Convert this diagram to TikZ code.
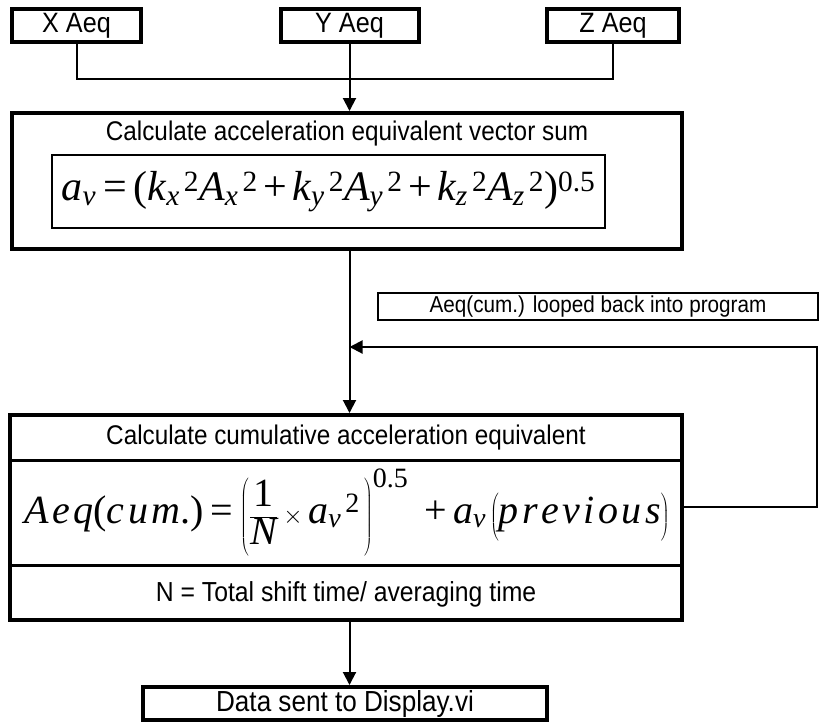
\documentclass[tikz,border=0pt]{standalone}
\usepackage[no-math]{fontspec}
\setmainfont{Liberation Sans}[FakeStretch=0.9]
\newfontfamily\libser[NFSSFamily=libser]{Liberation Serif}
% Times-like letters and digits in formulas
\DeclareSymbolFont{letters}{TU}{libser}{m}{it}
\DeclareSymbolFont{operators}{TU}{libser}{m}{n}
\mathcode`.="002E
\usetikzlibrary{arrows.meta}

% loosely tracked italic words in the cumulative formula
\newcommand\trk{\mkern2.5mu}

\tikzset{
  thickbox/.style={draw, line width=4pt, inner sep=0pt, fill=white},
  thinbox/.style={draw, line width=2pt, inner sep=0pt},
  lbl/.style={font=\fontsize{28}{30}\selectfont},
  head/.style={font=\fontsize{27}{29}\selectfont},
  mid/.style={font=\fontsize{27.5}{29}\selectfont},
  small/.style={font=\fontsize{23}{25}\selectfont},
  conn/.style={line width=2pt},
  flow/.style={conn, -{Triangle[length=13pt,width=13pt]}},
  divider/.style={line width=3pt},
}

\begin{document}
\begin{tikzpicture}[x=1pt,y=-1pt]
\useasboundingbox (0,0) rectangle (822,724);

% input channels
\node[thickbox, lbl, minimum width=129pt, minimum height=33pt] (xa) at (76.5,25.5) {X Aeq};
\node[thickbox, lbl, minimum width=138pt, minimum height=33pt] (ya) at (349.5,25.5) {Y Aeq};
\node[thickbox, lbl, minimum width=132pt, minimum height=33pt] (za) at (613,25.5) {Z Aeq};
\coordinate (hub) at (349.5,79);

% vector sum block
\node[thickbox, minimum width=670pt, minimum height=136pt] (b1) at (347,181) {};
\node[head] (b1t) at (347,134) {Calculate acceleration equivalent vector sum};
\node[thinbox, minimum width=553pt, minimum height=73pt] (f1) at (328.5,191.5) {};
\node[font=\fontsize{42}{46}\selectfont] (f1m) at (f1)
  {$a_v = (k_x{}^{\,2} A_x{}^{\,2} + k_y{}^{\,2} A_y{}^{\,2} + k_z{}^{\,2} A_z{}^{\,2})^{0.5}$};

% loop-back note
\node[thinbox, small, minimum width=440pt, minimum height=27pt] (lb) at (598,306.5) {Aeq(cum.) looped back into program};

% cumulative block
\node[thickbox, minimum width=672pt, minimum height=205pt] (b2) at (346,517.5) {};
\draw[divider] (b2.west |- 0,460) -- (b2.east |- 0,460);
\draw[divider] (b2.west |- 0,565) -- (b2.east |- 0,565);
\node[head] (b2t) at (346,438) {Calculate cumulative acceleration equivalent};
\node[font=\fontsize{40}{44}\selectfont] (f2) at (347,513)
  {$\displaystyle A\trk e\trk q(c\trk u\trk m.) = \left(\vrule height 44pt depth 34pt width 0pt\frac{1}{N}\times a_v{}^{\,2}\,\right)^{0.5}\;\, + a_v\left(\vrule height 30pt depth 12pt width 0pt p\trk r\trk e\trk v\trk i\trk o\trk u\trk s\right)$};
\node[mid] (b2n) at (346,594) {N = Total shift time/ averaging time};

% output
\node[thickbox, font=\fontsize{29}{31}\selectfont, minimum width=404pt, minimum height=33pt] (db) at (345,703.5) {Data sent to Display.vi};

% connectors
\coordinate (loopR) at (817,507);
\coordinate (loopT) at (817,347);
\coordinate (merge) at (ya |- loopT);

\draw[conn] (xa.south) |- (hub) -| (za.south);
\draw[flow] (ya.south) -- (ya.south |- b1.north);
\draw[flow] (ya |- b1.south) -- (ya |- b2.north);
\draw[flow] (b2.east |- loopR) -- (loopR) -- (loopT) -- (merge);
\draw[flow] (ya |- b2.south) -- (ya |- db.north);
\end{tikzpicture}
\end{document}
